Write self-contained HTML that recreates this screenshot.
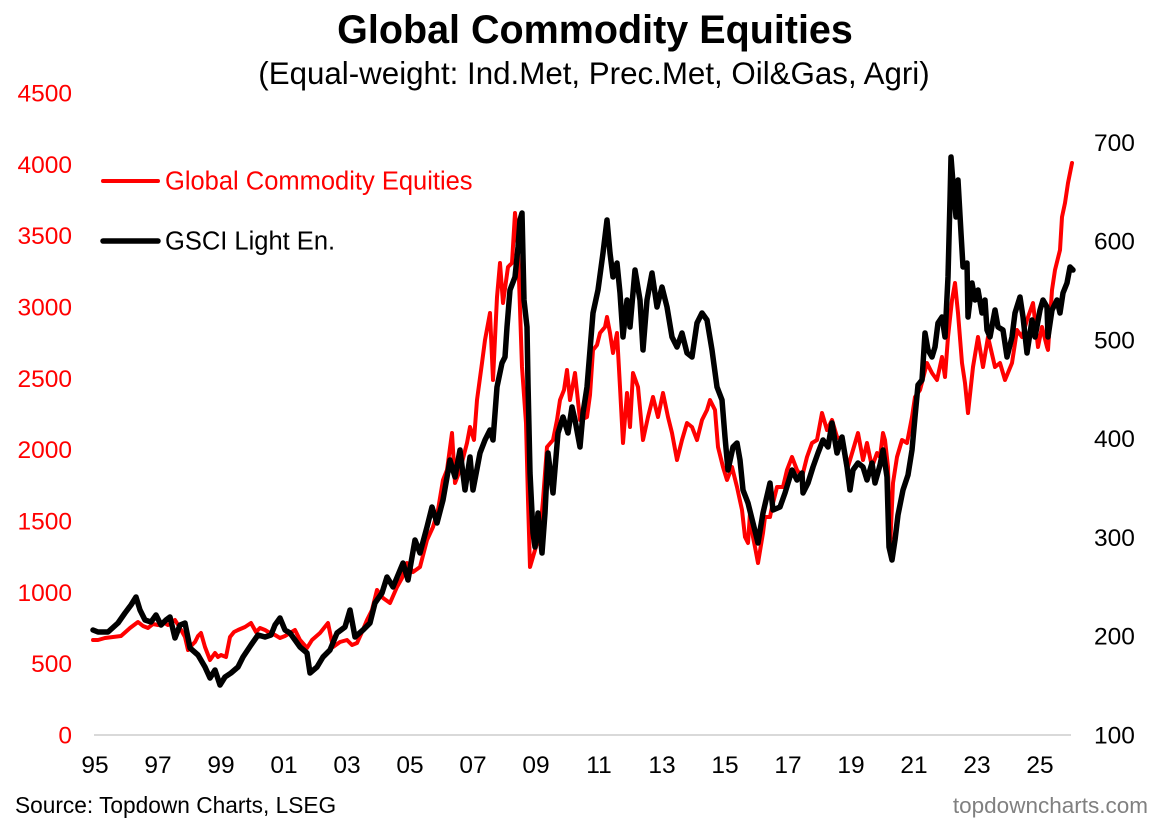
<!DOCTYPE html>
<html><head><meta charset="utf-8"><style>
html,body{margin:0;padding:0;background:#fff;}
svg{display:block;font-family:"Liberation Sans",Arial,sans-serif;}
</style></head><body>
<svg width="1165" height="822" viewBox="0 0 1165 822" xmlns="http://www.w3.org/2000/svg">
<rect width="1165" height="822" fill="#fff"/>
<text x="595" y="43" text-anchor="middle" font-size="39.5" font-weight="bold" fill="#000">Global Commodity Equities</text>
<text x="594" y="84" text-anchor="middle" font-size="31.3" fill="#000">(Equal-weight: Ind.Met, Prec.Met, Oil&amp;Gas, Agri)</text>
<line x1="94" y1="735" x2="1071" y2="735" stroke="#d9d9d9" stroke-width="2"/>
<g font-size="24.5" fill="#ff0000" text-anchor="end">
<text x="72" y="743.5">0</text>
<text x="72" y="672">500</text>
<text x="72" y="600.8">1000</text>
<text x="72" y="529.5">1500</text>
<text x="72" y="458.2">2000</text>
<text x="72" y="386.8">2500</text>
<text x="72" y="315.5">3000</text>
<text x="72" y="244.2">3500</text>
<text x="72" y="172.8">4000</text>
<text x="72" y="101.5">4500</text>
</g>
<g font-size="24.5" fill="#000" text-anchor="start">
<text x="1094" y="743.5">100</text>
<text x="1094" y="644.7">200</text>
<text x="1094" y="545.9">300</text>
<text x="1094" y="447.2">400</text>
<text x="1094" y="348.4">500</text>
<text x="1094" y="249.6">600</text>
<text x="1094" y="150.8">700</text>
</g>
<g font-size="24.5" fill="#000" text-anchor="middle">
<text x="95" y="773">95</text>
<text x="158" y="773">97</text>
<text x="221" y="773">99</text>
<text x="284" y="773">01</text>
<text x="347" y="773">03</text>
<text x="410" y="773">05</text>
<text x="473" y="773">07</text>
<text x="536" y="773">09</text>
<text x="599" y="773">11</text>
<text x="662" y="773">13</text>
<text x="725" y="773">15</text>
<text x="788" y="773">17</text>
<text x="851" y="773">19</text>
<text x="914" y="773">21</text>
<text x="977" y="773">23</text>
<text x="1040" y="773">25</text>
</g>
<polyline fill="none" stroke="#ff0000" stroke-width="4" stroke-linejoin="round" stroke-linecap="round" points="93,640 98,640 105,638 113,637 121,636 130,628 138,622 143,626 148,628 153,624 158,625 163,622 168,625 175,620 180,628 185,637 188,650 192,645 195,642 198,636 201,633 205,647 210,660 215,653 218,657 221,655 226,657 230,637 234,632 238,630 245,627 251,623 256,632 260,628 265,630 270,633 275,635 280,638 285,636 290,633 295,630 300,640 307,648 312,640 320,633 328,623 333,647 340,642 347,640 352,645 357,643 362,632 367,620 372,610 377,590 383,598 390,603 397,587 402,578 407,563 413,572 420,567 427,540 433,527 438,510 443,480 447,470 452,433 455,483 460,470 467,443 470,427 474,440 477,400 482,363 485,340 490,313 493,380 497,297 500,263 503,303 508,267 512,263 515,213 518,250 522,367 526,423 528,500 530,567 535,550 540,533 543,500 547,447 553,440 557,420 560,400 564,390 567,370 570,400 575,373 580,420 587,417 590,395 593,350 597,345 600,333 605,327 607,317 610,333 613,353 617,333 620,387 623,443 627,393 630,427 633,373 638,387 643,440 648,417 653,397 658,417 663,393 668,417 672,433 677,460 682,440 687,423 692,427 697,440 702,420 707,410 710,400 715,410 718,447 723,467 727,480 732,467 737,487 742,510 745,537 748,543 750,513 753,537 755,547 758,563 763,533 765,517 770,517 772,507 777,487 783,487 787,470 792,457 797,470 802,477 807,457 812,443 817,440 822,413 827,430 832,420 837,437 842,440 847,470 853,450 858,433 863,460 867,443 872,467 877,453 880,457 883,433 885,440 888,467 890,550 893,483 897,457 902,440 907,443 912,417 915,397 920,390 927,363 932,373 937,380 942,357 945,377 948,337 952,300 955,283 958,313 962,363 965,383 968,413 973,367 978,337 983,367 988,337 995,367 1000,363 1005,380 1012,363 1017,330 1022,337 1027,320 1033,303 1038,347 1042,327 1047,347 1048,350 1052,290 1055,270 1060,250 1062,217 1065,203 1068,183 1072,163"/>
<polyline fill="none" stroke="#000" stroke-width="5.5" stroke-linejoin="round" stroke-linecap="round" points="93,630 98,632 108,632 118,623 125,613 131,605 136,597 140,610 145,620 151,622 156,615 161,625 166,620 170,617 175,638 180,625 185,623 190,648 198,655 205,667 210,678 215,670 220,685 225,677 231,673 238,667 243,657 251,645 258,635 265,637 271,635 275,625 280,618 285,630 290,633 300,647 307,653 310,673 317,667 323,657 330,650 337,633 345,627 350,610 355,637 363,630 370,623 375,603 382,593 387,577 393,587 398,575 403,563 408,580 415,540 420,553 427,527 432,507 437,523 443,500 450,460 455,477 460,450 465,490 470,457 473,490 480,453 485,440 490,430 493,440 497,387 502,363 505,357 507,327 510,290 515,277 518,247 520,220 522,213 524,300 527,327 528,383 530,473 533,533 535,547 538,513 542,553 545,513 548,453 553,493 558,433 563,417 568,433 572,407 575,420 580,447 583,413 587,387 590,350 593,313 598,290 603,253 607,220 610,253 613,277 617,263 620,293 623,337 627,300 630,327 635,270 640,300 643,350 647,300 652,273 657,307 662,287 667,307 672,337 677,347 682,333 687,353 692,357 697,323 702,313 707,320 712,350 717,387 722,400 725,437 728,470 733,447 737,443 740,460 743,490 748,503 753,523 758,543 763,513 770,483 773,510 780,507 785,493 792,470 797,480 802,473 803,493 808,483 813,467 818,453 823,440 828,447 832,423 837,453 842,437 847,467 850,490 853,470 858,463 863,467 867,480 872,463 875,483 880,465 883,450 887,477 889,547 892,560 895,540 898,515 903,490 908,475 912,450 915,417 918,385 922,380 925,333 928,350 932,357 935,347 938,323 942,317 945,337 948,277 950,200 951,157 953,183 956,217 958,180 961,233 963,267 967,263 968,317 972,283 975,300 978,290 982,313 985,300 987,330 990,337 995,310 998,327 1003,330 1007,357 1012,337 1015,313 1020,297 1023,317 1027,353 1032,320 1035,337 1040,310 1043,300 1047,307 1048,337 1052,310 1057,300 1060,313 1063,293 1067,283 1070,267 1073,270"/>
<line x1="103" y1="181" x2="158" y2="181" stroke="#ff0000" stroke-width="4" stroke-linecap="round"/>
<text x="165" y="189.5" font-size="25.5" fill="#ff0000">Global Commodity Equities</text>
<line x1="103" y1="241" x2="158" y2="241" stroke="#000" stroke-width="5.5" stroke-linecap="round"/>
<text x="165" y="249.5" font-size="25.5" fill="#000">GSCI Light En.</text>
<text x="15" y="813" font-size="22.7" fill="#000">Source: Topdown Charts, LSEG</text>
<text x="1148" y="813" font-size="22.5" fill="#808080" text-anchor="end">topdowncharts.com</text>
</svg>
</body></html>
